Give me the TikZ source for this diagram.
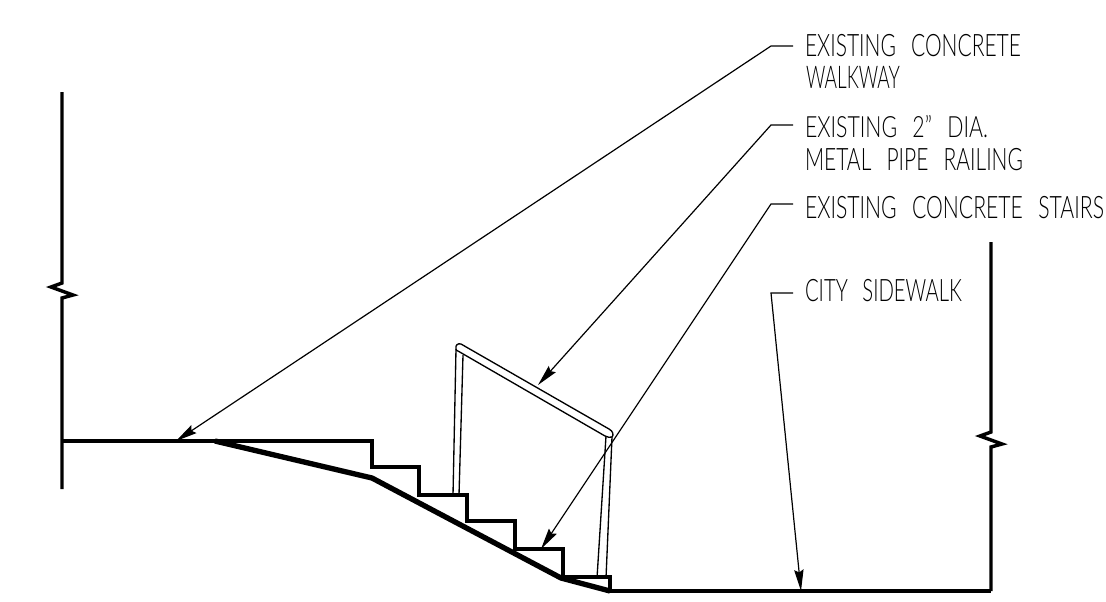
\documentclass[tikz,border=0pt]{standalone}
\usepackage{fontspec}
\newfontfamily\cad[UprightFont=* Light]{Lato}
\usetikzlibrary{arrows.meta}
\tikzset{
  x=0.75pt,y=-0.75pt,
  heavy/.style={line width=2.6pt,line join=miter},
  slab/.style={line width=4pt,line join=round},
  thin rail/.style={line width=1pt,line join=round},
  leader/.style={line width=0.9pt,line join=miter,-{Stealth[length=16pt,width=7pt,inset=2pt]}},
  tag/.style={anchor=west,inner sep=0pt,outer sep=0pt,font=\cad},
}
\newcommand{\capt}[2]{\resizebox{\dimexpr #1pt*3/4\relax}{16.6pt}{#2}}
\newcommand{\gap}{\hspace{0.72em}}
\begin{document}
\begin{tikzpicture}
\useasboundingbox (0,0) rectangle (1106,601);
\fill[white] (0,0) rectangle (1106,601);
% labels
\node[tag] (walk1) at (805,46) {\capt{216}{EXISTING\gap CONCRETE}};
\node[tag] (walk2) at (806,77) {\capt{94}{WALKWAY}};
\node[tag] (pipe1) at (805,127) {\capt{183}{EXISTING\gap 2”\gap DIA.}};
\node[tag] (pipe2) at (805,160) {\capt{218}{METAL\gap PIPE\gap RAILING}};
\node[tag] (stairs) at (805,208) {\capt{299}{EXISTING\gap CONCRETE\gap STAIRS}};
\node[tag] (city) at (805,291) {\capt{157}{CITY\gap SIDEWALK}};
% targets
\coordinate (twalk) at (176,441);
\coordinate (trail) at (538,385);
\coordinate (tstair) at (541,549);
\coordinate (tcity) at (801,591);
\coordinate (b1) at (771,46);
\coordinate (b2) at (771,125);
\coordinate (b3) at (771,204);
\coordinate (b4) at (771,293);
\coordinate (s1) at (793,46);
\coordinate (s2) at (793,125);
\coordinate (s3) at (793,204);
\coordinate (s4) at (793,293);
% ground and stairs
\draw[heavy] (62,92) -- (62,283) -- (51,287) -- (73,295) -- (62,298) -- (62,489);
\draw[heavy] (62,441) -- (372,441) -- (372,467) -- (419,467) -- (419,495) -- (467,495)
  -- (467,521) -- (515,521) -- (515,549) -- (563,549) -- (563,577) -- (610,577)
  -- (610,591) -- (991,591);
\draw[heavy] (991,242) -- (991,432) -- (980,436) -- (1002,444) -- (991,447) -- (991,591);
\draw[slab] (215,441) -- (372,478) -- (561,578) -- (610,591);
% railing
\draw[thin rail] (453,495) -- (456,349) .. controls (455,345) and (458,343) .. (461,344)
  -- (609,429) .. controls (613,431) and (614,435) .. (612,437) -- (606,578);
\draw[thin rail] (459,495) -- (463,355);
\draw[thin rail] (456,349) .. controls (456,350) and (457,351) .. (458,351) -- (605,436) .. controls (608,437) and (610,438) .. (612,437);
\draw[thin rail] (606,436) -- (597,578);
% leaders
\draw[leader] (s1) -- (b1) -- (twalk);
\draw[leader] (s2) -- (b2) -- (trail);
\draw[leader] (s3) -- (b3) -- (tstair);
\draw[leader] (s4) -- (b4) -- (tcity);
\end{tikzpicture}
\end{document}
